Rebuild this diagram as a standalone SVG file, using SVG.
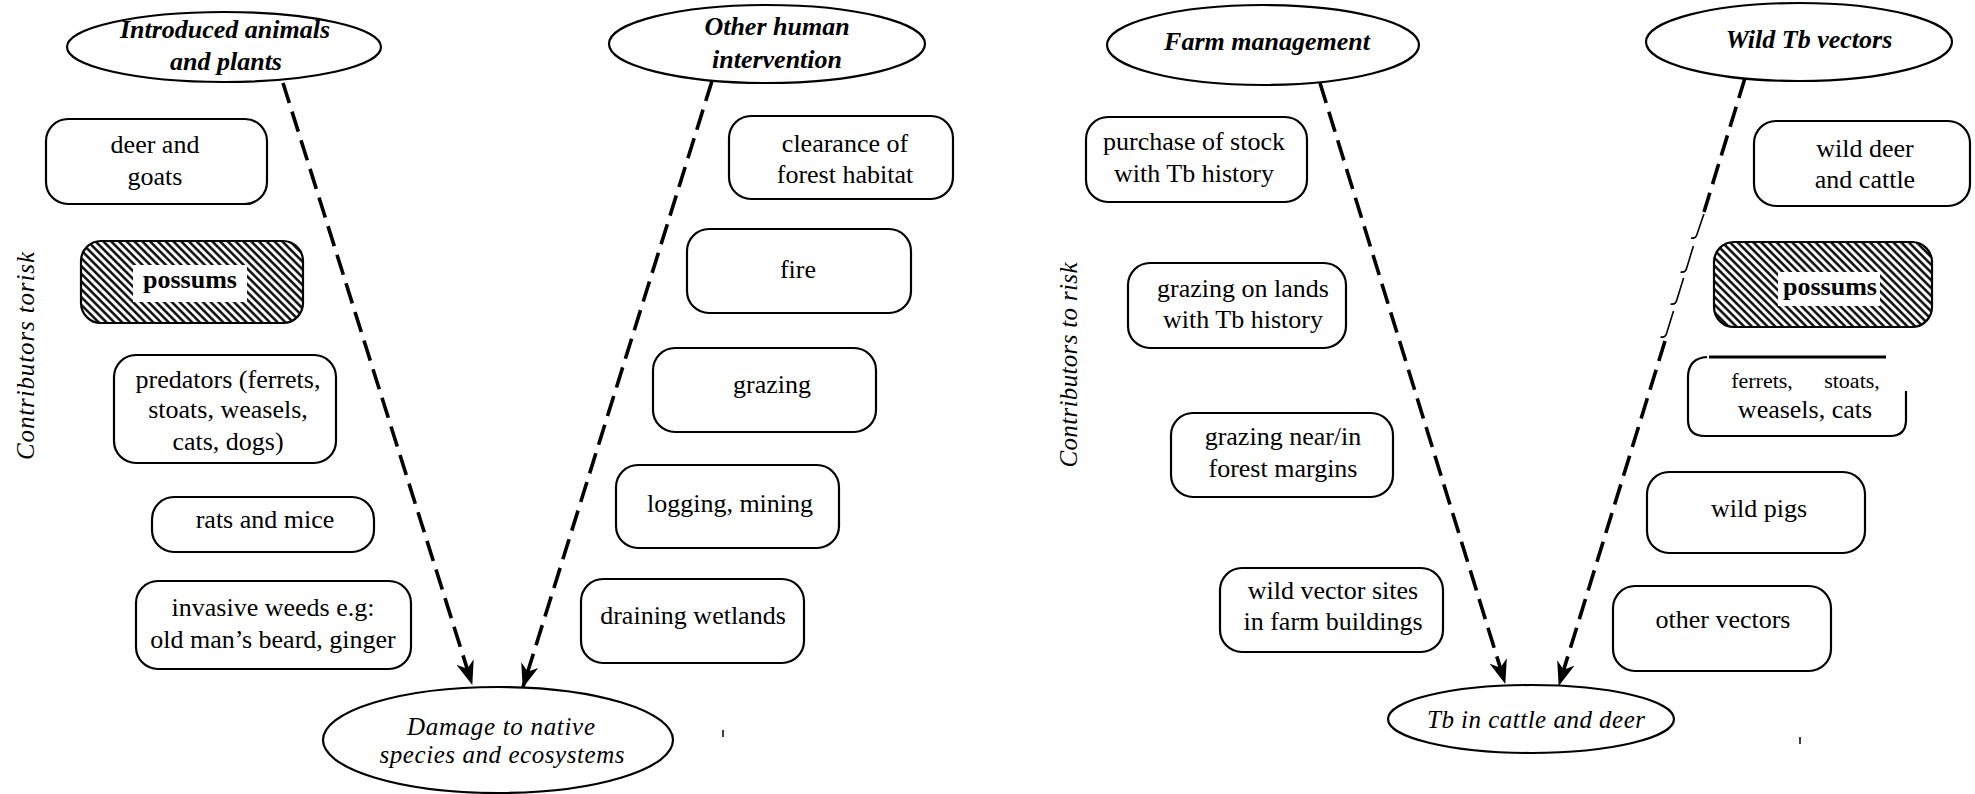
<svg xmlns="http://www.w3.org/2000/svg" width="1975" height="794" viewBox="0 0 1975 794">
<style>
.bg{fill:#fff}
.box{fill:#fff;stroke:#000;stroke-width:2.2}
.hbox{fill:url(#hatch);stroke:#000;stroke-width:2.2}
.ell{fill:#fff;stroke:#000;stroke-width:2.2}
.t{font-family:"Liberation Serif","Times New Roman",serif;font-size:26px;fill:#000;text-anchor:middle}
.tb{font-family:"Liberation Serif","Times New Roman",serif;font-size:26px;font-weight:bold;fill:#000;text-anchor:middle}
.th{font-family:"Liberation Serif","Times New Roman",serif;font-size:26px;font-weight:bold;font-style:italic;fill:#000;text-anchor:middle}
.ti{font-family:"Liberation Serif","Times New Roman",serif;font-size:25px;font-style:italic;fill:#000;text-anchor:middle}
.dash{fill:none;stroke:#000;stroke-width:3.6;stroke-dasharray:21 9}
.thin{fill:none;stroke:#000;stroke-width:1.6}
</style>
<defs>
<pattern id="hatch" patternUnits="userSpaceOnUse" width="5.5" height="5.5" patternTransform="rotate(-45)">
<rect width="5.5" height="5.5" fill="#fff"/>
<line x1="1.4" y1="0" x2="1.4" y2="5.5" stroke="#000" stroke-width="2.4"/>
</pattern>
<marker id="arr" viewBox="0 0 24 18" refX="23" refY="9" markerWidth="24" markerHeight="18" markerUnits="userSpaceOnUse" orient="auto">
<path d="M0,0 L24,9 L0,18 L7,9 z" fill="#000"/>
</marker>
</defs>
<rect class="bg" x="0" y="0" width="1975" height="794"/>

<!-- connectors -->
<g id="connectors">
<line class="dash" x1="283" y1="83" x2="472" y2="684" marker-end="url(#arr)"/>
<line class="dash" x1="712" y1="81" x2="523" y2="687" marker-end="url(#arr)"/>
<line class="dash" x1="1320" y1="83" x2="1505" y2="683" marker-end="url(#arr)"/>
<line class="dash" x1="1745" y1="78" x2="1704" y2="212"/>
<path class="thin" d="M1703.9,214 L1697.1,234 Q1696,239 1691,238 M1693.4,246 L1686.7,268 Q1685.6,273 1680.5,272 M1683.6,278 L1676.8,300 Q1675.7,305 1670.6,304 M1673.5,311 L1666.7,333 Q1665.6,338 1660.5,337"/>
<line class="dash" x1="1665" y1="341" x2="1559" y2="685" marker-end="url(#arr)"/>
</g>

<!-- left diagram -->
<g id="introduced">
<ellipse class="ell" cx="224" cy="47" rx="157" ry="35"/>
<text class="th" x="225" y="38">Introduced animals</text>
<text class="th" x="226" y="70">and plants</text>
</g>
<g id="other-human">
<ellipse class="ell" cx="767" cy="44" rx="158" ry="39"/>
<text class="th" x="777" y="35">Other human</text>
<text class="th" x="777" y="68">intervention</text>
</g>
<g id="damage">
<ellipse class="ell" cx="498" cy="740" rx="175" ry="53"/>
<text class="ti" x="501" y="735" textLength="188" lengthAdjust="spacing">Damage to native</text>
<text class="ti" x="502" y="763" textLength="245" lengthAdjust="spacing">species and ecosystems</text>
</g>
<g id="label-left">
<text class="ti" transform="translate(34,356) rotate(-90)" textLength="208" lengthAdjust="spacing">Contributors torisk</text>
</g>
<g id="deer-goats">
<rect class="box" x="46" y="119" width="221" height="85" rx="22"/>
<text class="t" x="155" y="153">deer and</text>
<text class="t" x="155" y="185">goats</text>
</g>
<g id="possums-left">
<rect class="hbox" x="81" y="241" width="222" height="82" rx="20"/>
<rect class="bg" x="133" y="265" width="114" height="37"/>
<text class="tb" x="190" y="288">possums</text>
</g>
<g id="predators">
<rect class="box" x="114" y="355" width="222" height="108" rx="22"/>
<text class="t" x="228" y="388">predators (ferrets,</text>
<text class="t" x="228" y="418">stoats, weasels,</text>
<text class="t" x="228" y="450">cats, dogs)</text>
</g>
<g id="rats-mice">
<rect class="box" x="152" y="497" width="222" height="55" rx="22"/>
<text class="t" x="265" y="528">rats and mice</text>
</g>
<g id="weeds">
<rect class="box" x="136" y="581" width="275" height="88" rx="22"/>
<text class="t" x="273" y="616">invasive weeds e.g:</text>
<text class="t" x="273" y="648">old man’s beard, ginger</text>
</g>
<g id="clearance">
<rect class="box" x="729" y="116" width="224" height="83" rx="22"/>
<text class="t" x="845" y="152">clearance of</text>
<text class="t" x="845" y="183">forest habitat</text>
</g>
<g id="fire">
<rect class="box" x="687" y="229" width="224" height="84" rx="22"/>
<text class="t" x="798" y="278">fire</text>
</g>
<g id="grazing">
<rect class="box" x="653" y="348" width="223" height="84" rx="22"/>
<text class="t" x="772" y="393">grazing</text>
</g>
<g id="logging">
<rect class="box" x="616" y="465" width="223" height="83" rx="22"/>
<text class="t" x="730" y="512">logging, mining</text>
</g>
<g id="draining">
<rect class="box" x="581" y="579" width="223" height="84" rx="22"/>
<text class="t" x="693" y="624">draining wetlands</text>
</g>
<line x1="723" y1="730" x2="723" y2="737" stroke="#000" stroke-width="1.5"/>

<!-- right diagram -->
<g id="farm-management">
<ellipse class="ell" cx="1263" cy="45" rx="156" ry="40"/>
<text class="th" x="1267" y="50">Farm management</text>
</g>
<g id="wild-tb-vectors">
<ellipse class="ell" cx="1799" cy="42" rx="153" ry="39"/>
<text class="th" x="1809" y="48">Wild Tb vectors</text>
</g>
<g id="tb-cattle">
<ellipse class="ell" cx="1531" cy="719" rx="143" ry="34"/>
<text class="ti" x="1536" y="728" textLength="218" lengthAdjust="spacing">Tb in cattle and deer</text>
</g>
<g id="label-right">
<text class="ti" transform="translate(1077,365) rotate(-90)" textLength="205" lengthAdjust="spacing">Contributors to risk</text>
</g>
<g id="purchase">
<rect class="box" x="1086" y="117" width="221" height="85" rx="22"/>
<text class="t" x="1194" y="150">purchase of stock</text>
<text class="t" x="1194" y="182">with Tb history</text>
</g>
<g id="grazing-lands">
<rect class="box" x="1128" y="263" width="218" height="85" rx="22"/>
<text class="t" x="1243" y="297">grazing on lands</text>
<text class="t" x="1243" y="328">with Tb history</text>
</g>
<g id="grazing-near">
<rect class="box" x="1171" y="413" width="222" height="84" rx="22"/>
<text class="t" x="1283" y="445">grazing near/in</text>
<text class="t" x="1283" y="477">forest margins</text>
</g>
<g id="wild-vector-sites">
<rect class="box" x="1220" y="568" width="223" height="84" rx="22"/>
<text class="t" x="1333" y="599">wild vector sites</text>
<text class="t" x="1333" y="630">in farm buildings</text>
</g>
<g id="wild-deer">
<rect class="box" x="1754" y="121" width="216" height="85" rx="22"/>
<text class="t" x="1865" y="157">wild deer</text>
<text class="t" x="1865" y="188">and cattle</text>
</g>
<g id="possums-right">
<rect class="hbox" x="1714" y="242" width="218" height="85" rx="20"/>
<rect class="bg" x="1778" y="272" width="102" height="34"/>
<text class="tb" x="1830" y="295">possums</text>
</g>
<g id="ferrets">
<path class="box" fill="none" d="M1707,357 Q1689,358 1688,376 L1688,420 Q1688,436 1705,436 L1890,436 Q1906,436 1906,420 L1906,391"/>
<line x1="1709" y1="357" x2="1886" y2="357" stroke="#000" stroke-width="3"/>
<text class="t" x="1762" y="388" style="font-size:22px">ferrets,</text>
<text class="t" x="1852" y="388" style="font-size:22px">stoats,</text>
<text class="t" x="1805" y="418">weasels, cats</text>
</g>
<g id="wild-pigs">
<rect class="box" x="1647" y="472" width="218" height="81" rx="22"/>
<text class="t" x="1759" y="517">wild pigs</text>
</g>
<g id="other-vectors">
<rect class="box" x="1613" y="586" width="218" height="85" rx="22"/>
<text class="t" x="1723" y="628">other vectors</text>
</g>
<line x1="1800" y1="737" x2="1800" y2="744" stroke="#000" stroke-width="1.5"/>
</svg>
